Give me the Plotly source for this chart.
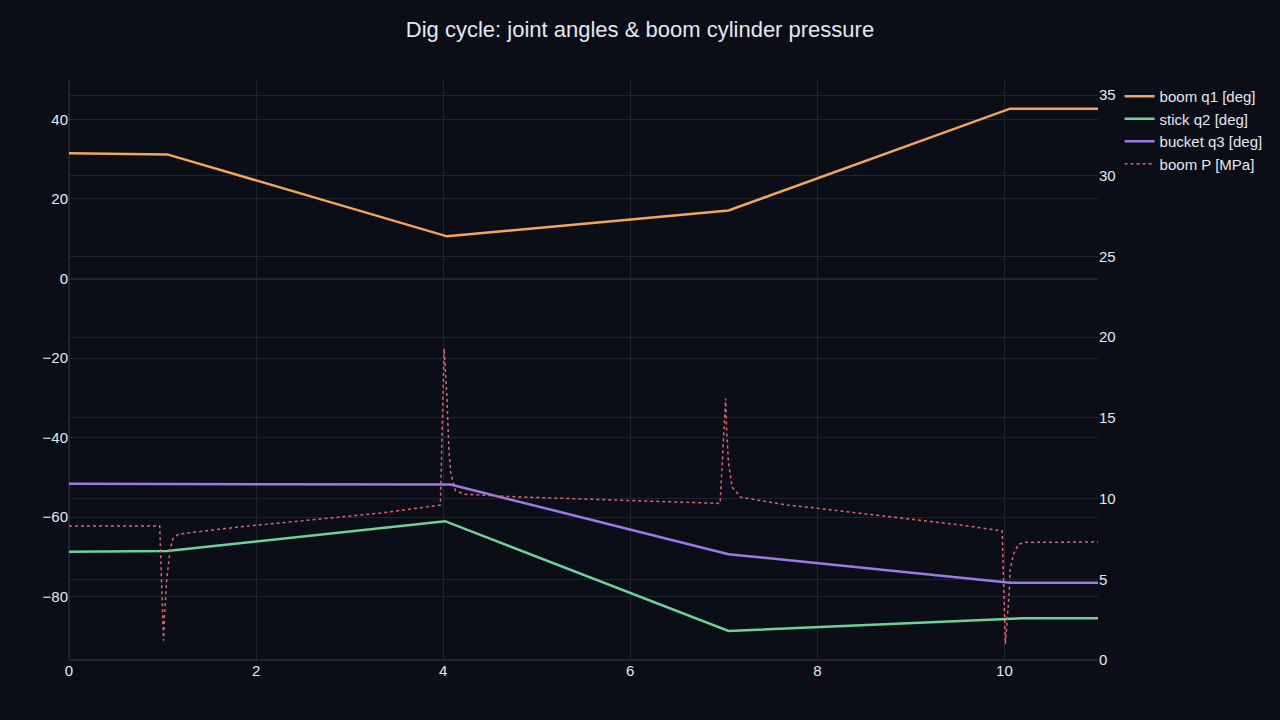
"""
Dig cycle plot: joint angles (left axis) and boom cylinder pressure (right axis).
"""

import plotly.graph_objects as go

# Joint angle breakpoints [s] / [deg]
t_boom = [0.0, 1.05, 4.04, 7.05, 10.06, 11.0]
q1_boom = [31.5, 31.2, 10.6, 17.1, 42.7, 42.7]

t_stick = [0.0, 1.05, 4.02, 7.05, 10.2, 11.0]
q2_stick = [-68.7, -68.5, -61.0, -88.6, -85.4, -85.4]

t_bucket = [0.0, 4.08, 7.05, 10.06, 11.0]
q3_bucket = [-51.6, -51.8, -69.3, -76.5, -76.5]

# Boom cylinder pressure [s] / [MPa]
t_press = [
    0.0, 0.97, 1.01, 1.02, 1.045, 1.08, 1.11, 1.17, 1.83, 3.33, 3.97,
    4.01, 4.04, 4.06, 4.08, 4.13, 4.22, 4.82, 6.96,
    7.02, 7.03, 7.05, 7.09, 7.18, 7.68, 8.0, 9.53, 9.975,
    10.01, 10.03, 10.05, 10.06, 10.1, 10.15, 10.22, 11.0,
]
p_boom = [
    8.3, 8.3, 1.2, 2.7, 5.0, 6.8, 7.5, 7.8, 8.25, 9.1, 9.6,
    19.3, 16.3, 13.2, 11.6, 10.5, 10.27, 10.1, 9.7,
    16.2, 14.3, 12.2, 10.7, 10.08, 9.6, 9.4, 8.36, 8.0,
    1.0, 2.5, 4.1, 5.6, 6.6, 7.17, 7.29, 7.31,
]

BG = "#0b0e16"
GRID = "#1f2430"
FONT = "#e3e8f0"

fig = go.Figure()

fig.add_trace(go.Scatter(x=t_boom, y=q1_boom, mode="lines", name="boom q1 [deg]",
                         line=dict(color="#f2a65a", width=2.5)))
fig.add_trace(go.Scatter(x=t_stick, y=q2_stick, mode="lines", name="stick q2 [deg]",
                         line=dict(color="#6fd19a", width=2.5)))
fig.add_trace(go.Scatter(x=t_bucket, y=q3_bucket, mode="lines", name="bucket q3 [deg]",
                         line=dict(color="#9b7be8", width=2.5)))
fig.add_trace(go.Scatter(x=t_press, y=p_boom, mode="lines", name="boom P [MPa]",
                         yaxis="y2", line=dict(color="#e0636f", width=1.5, dash="dot")))

fig.update_layout(
    title=dict(text="Dig cycle: joint angles & boom cylinder pressure",
               x=0.5, xanchor="center", y=0.97, font=dict(size=22, color=FONT)),
    width=1280,
    height=720,
    paper_bgcolor=BG,
    plot_bgcolor=BG,
    font=dict(family="Arial, Liberation Sans, sans-serif", color=FONT, size=15),
    margin=dict(l=69, r=182, t=80, b=60),
    legend=dict(x=1.021, y=1.0, xanchor="left", yanchor="top",
                bgcolor="rgba(0,0,0,0)", font=dict(size=15)),
    xaxis=dict(range=[0, 11], showgrid=True, gridcolor=GRID, zeroline=True,
               zerolinecolor=GRID, dtick=2, ticks=""),
    yaxis=dict(range=[-95.9, 49.9], showgrid=True, gridcolor=GRID, zeroline=True,
               zerolinecolor=GRID, dtick=20),
    yaxis2=dict(range=[0, 35.93], overlaying="y", side="right", showgrid=True,
                gridcolor=GRID, zeroline=True, zerolinecolor=GRID, dtick=5),
    showlegend=True,
)

# strip the default page margin so the figure sits flush in the window
fig.write_html(
    "out.html",
    config={"displayModeBar": False},
    post_script="document.body.style.margin='0';"
                "document.body.style.background='" + BG + "';",
)
